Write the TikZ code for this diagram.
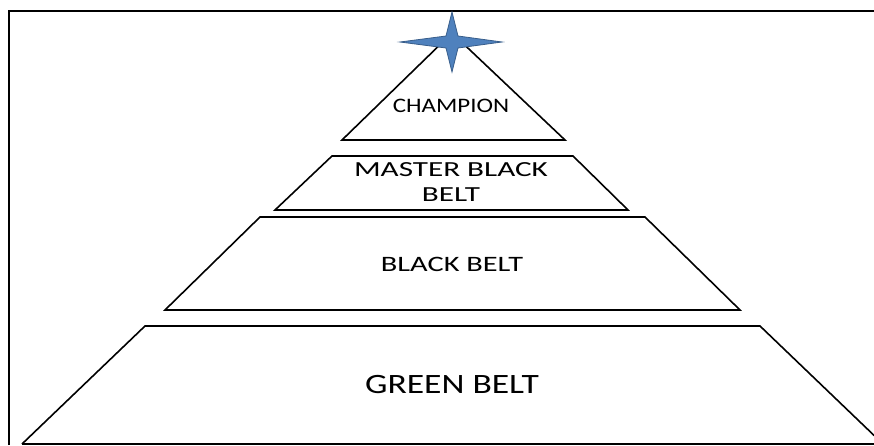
\documentclass[tikz,border=0pt]{standalone}
\usepackage{fontspec}
\setmainfont{Carlito}
\definecolor{starfill}{HTML}{4F81BD}
\definecolor{stardraw}{HTML}{385D8A}
\tikzset{
  tier/.style={draw=black, line width=1.6pt, line join=miter},
  lbl/.style={inner sep=0pt, align=center, text=black},
}
\begin{document}
\begin{tikzpicture}[x=1pt,y=-1pt]
\useasboundingbox (0,0) rectangle (874,445);
% frame
\draw[line width=2pt] (9,445) -- (9,11) -- (874,11);
% tiers
\draw[tier] (452,33) -- (565,140) -- (342,140) -- cycle;
\draw[tier] (332,156) -- (573,156) -- (628,210) -- (275,210) -- cycle;
\draw[tier] (260,217) -- (645,217) -- (740,310) -- (165,310) -- cycle;
\begin{scope}
\clip (0,0) rectangle (874,445);
\draw[tier] (22,444) -- (145,326) -- (760,326) -- (883,444);
\draw[tier] (22,444) -- (874,444);
\end{scope}
% star
\filldraw[fill=starfill, draw=stardraw, line width=0.8pt]
  (452,12) -- (458,36) -- (502,42) -- (458,48) -- (452,72)
  -- (446,48) -- (400,42) -- (446,36) -- cycle;
% labels
\node[lbl, font=\fontsize{20.6}{22}\selectfont, xscale=1.21] (champ) at (451,106) {CHAMPION};
\node[lbl, font=\fontsize{21.5}{25}\selectfont, xscale=1.45] (mbb) at (451,182) {MASTER BLACK\\BELT};
\node[lbl, font=\fontsize{22}{24}\selectfont, xscale=1.38] (bb) at (452,264) {BLACK BELT};
\node[lbl, font=\fontsize{28}{30}\selectfont, xscale=1.27] (gb) at (452,385) {GREEN BELT};
\end{tikzpicture}
\end{document}
